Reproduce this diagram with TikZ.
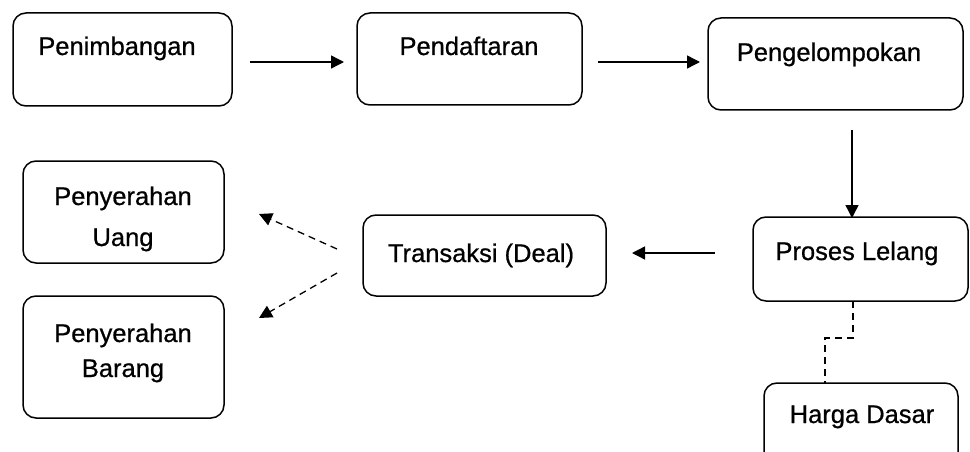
\documentclass[tikz,border=0pt]{standalone}
\usepackage{fontspec}
\setmainfont{Liberation Sans}
\usetikzlibrary{arrows.meta}
\begin{document}
\begin{tikzpicture}[x=1pt,y=-1pt,
  boxstyle/.style={draw, line width=1.5pt, rounded corners=13pt},
  lbl/.style={anchor=base, inner sep=0pt, font=\fontsize{25.5}{30}\selectfont\addfontfeatures{FakeBold=0.7}},
  solidarrow/.style={line width=1.4pt, -{Triangle[length=13pt,width=13pt]}},
  dasharrow/.style={line width=1.3pt, dash pattern=on 7pt off 5pt, -{Triangle[length=13pt,width=13pt]}},
  dashline/.style={line width=1.3pt, dash pattern=on 7pt off 5pt}]
\useasboundingbox (0,0) rectangle (970,452);
\clip (0,0) rectangle (970,452);
% boxes
\draw[boxstyle] (13,13) rectangle (232,106);
\node (pen) at (122.5,59.5) {};
\draw[boxstyle] (357,13) rectangle (582,105);
\node (daf) at (469.5,59) {};
\draw[boxstyle] (708,18) rectangle (963,110);
\node (kel) at (835.5,64) {};
\draw[boxstyle] (753,217) rectangle (968,301);
\node (pro) at (860.5,259) {};
\draw[boxstyle] (363,215) rectangle (606,296);
\node (tra) at (484.5,255.5) {};
\draw[boxstyle] (23,161) rectangle (224,263);
\node (uang) at (123.5,212) {};
\draw[boxstyle] (23,296) rectangle (224,418);
\node (bar) at (123.5,357) {};
\draw[boxstyle] (764,383) rectangle (958,480);
\node (har) at (861,431) {};
% texts
\node[lbl] (tpen) at (117,55) {Penimbangan};
\node[lbl] (tdaf) at (469,55) {Pendaftaran};
\node[lbl] (tkel) at (829,61) {Pengelompokan};
\node[lbl] (tpro) at (857,260) {Proses Lelang};
\node[lbl] (ttra) at (481,262) {Transaksi (Deal)};
\node[lbl] (tu1) at (123,205) {Penyerahan};
\node[lbl] (tu2) at (123,246) {Uang};
\node[lbl] (tb1) at (123,342) {Penyerahan};
\node[lbl] (tb2) at (123,377) {Barang};
\node[lbl] (thar) at (862,423) {Harga Dasar};
% connector ends
\coordinate (a1s) at (250,62);
\coordinate (a1e) at (344,62);
\coordinate (a2s) at (598,62);
\coordinate (a2e) at (700,62);
\coordinate (a3s) at (852,130);
\coordinate (a3e) at (852,218);
\coordinate (a4s) at (715,253);
\coordinate (a4e) at (632,253);
\coordinate (d1s) at (337,249);
\coordinate (d1e) at (259,214);
\coordinate (d2s) at (337,273);
\coordinate (d2e) at (259,318);
\coordinate (h1) at (853,301);
\coordinate (h2) at (825,383);
\draw[solidarrow] (a1s) -- (a1e);
\draw[solidarrow] (a2s) -- (a2e);
\draw[solidarrow] (a3s) -- (a3e);
\draw[solidarrow] (a4s) -- (a4e);
\draw[dasharrow] (d1s) -- (d1e);
\draw[dasharrow] (d2s) -- (d2e);
\draw[dashline] (h1) -- ++(0,37) -| (h2);
\end{tikzpicture}
\end{document}
